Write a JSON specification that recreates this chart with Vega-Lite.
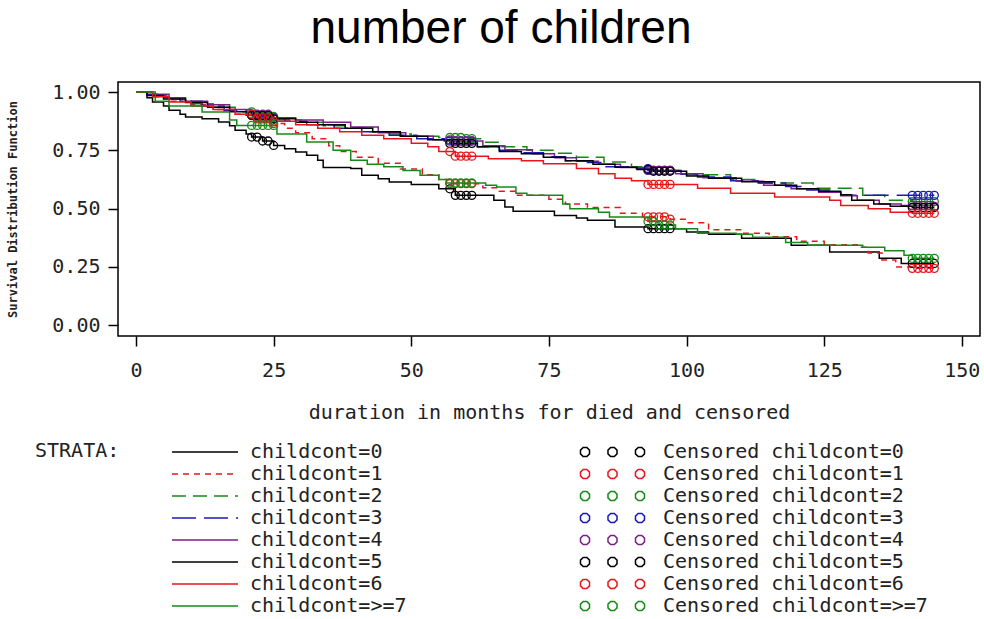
{
  "$schema": "https://vega.github.io/schema/vega-lite/v6.json",
  "width": 862,
  "height": 254,
  "autosize": "none",
  "padding": {"left": 118, "top": 82, "right": 4, "bottom": 283},
  "background": "#ffffff",
  "title": {"text": "number of children", "font": "Liberation Sans", "fontSize": 46, "fontWeight": "normal", "color": "#000000", "anchor": "middle", "frame": "group", "baseline": "alphabetic", "offset": -7, "dx": -48},
  "config": {
    "view": {"stroke": "#000000", "strokeWidth": 1.5},
    "axis": {"domain": false, "grid": false, "tickColor": "#000000", "tickWidth": 1.5, "tickSize": 10, "labelFont": "DejaVu Sans Mono", "labelFontSize": 20, "labelColor": "#222222", "titleFont": "DejaVu Sans Mono", "titleColor": "#222222"},
    "legend": {"labelFont": "DejaVu Sans Mono", "labelFontSize": 20, "labelColor": "#222222", "titleFont": "DejaVu Sans Mono", "titleFontSize": 20, "titleFontWeight": "normal", "titleColor": "#222222", "padding": 0, "rowPadding": 0, "clipHeight": 22, "labelLimit": 400, "symbolStrokeWidth": 1.5}
  },
  "datasets": {
    "curves": [
      {"strata":"childcont=0","t":0,"s":1},{"strata":"childcont=0","t":2,"s":0.975},{"strata":"childcont=0","t":3,"s":0.957},{"strata":"childcont=0","t":5,"s":0.94},{"strata":"childcont=0","t":6,"s":0.922},{"strata":"childcont=0","t":8,"s":0.905},{"strata":"childcont=0","t":9,"s":0.893},{"strata":"childcont=0","t":12,"s":0.885},{"strata":"childcont=0","t":15,"s":0.871},{"strata":"childcont=0","t":17,"s":0.855},{"strata":"childcont=0","t":18,"s":0.836},{"strata":"childcont=0","t":20,"s":0.82},{"strata":"childcont=0","t":21,"s":0.807},{"strata":"childcont=0","t":23,"s":0.79},{"strata":"childcont=0","t":25,"s":0.771},{"strata":"childcont=0","t":27,"s":0.757},{"strata":"childcont=0","t":29,"s":0.743},{"strata":"childcont=0","t":31,"s":0.729},{"strata":"childcont=0","t":33,"s":0.707},{"strata":"childcont=0","t":34,"s":0.676},{"strata":"childcont=0","t":39,"s":0.672},{"strata":"childcont=0","t":41,"s":0.643},{"strata":"childcont=0","t":44,"s":0.628},{"strata":"childcont=0","t":46,"s":0.614},{"strata":"childcont=0","t":50,"s":0.604},{"strata":"childcont=0","t":55,"s":0.585},{"strata":"childcont=0","t":58,"s":0.557},{"strata":"childcont=0","t":65,"s":0.536},{"strata":"childcont=0","t":67,"s":0.507},{"strata":"childcont=0","t":68.5,"s":0.489},{"strata":"childcont=0","t":76,"s":0.471},{"strata":"childcont=0","t":80,"s":0.46},{"strata":"childcont=0","t":82,"s":0.45},{"strata":"childcont=0","t":87,"s":0.421},{"strata":"childcont=0","t":93,"s":0.414},{"strata":"childcont=0","t":100,"s":0.4},{"strata":"childcont=0","t":104,"s":0.39},{"strata":"childcont=0","t":110,"s":0.373},{"strata":"childcont=0","t":119,"s":0.343},{"strata":"childcont=0","t":126,"s":0.314},{"strata":"childcont=0","t":135,"s":0.287},{"strata":"childcont=0","t":139,"s":0.265},{"strata":"childcont=0","t":145,"s":0.265},

      {"strata":"childcont=1","t":0,"s":1},{"strata":"childcont=1","t":3,"s":0.98},{"strata":"childcont=1","t":6,"s":0.96},{"strata":"childcont=1","t":10,"s":0.945},{"strata":"childcont=1","t":14,"s":0.925},{"strata":"childcont=1","t":18,"s":0.905},{"strata":"childcont=1","t":22,"s":0.885},{"strata":"childcont=1","t":25,"s":0.865},{"strata":"childcont=1","t":27,"s":0.845},{"strata":"childcont=1","t":29,"s":0.825},{"strata":"childcont=1","t":32,"s":0.8},{"strata":"childcont=1","t":35,"s":0.77},{"strata":"childcont=1","t":37,"s":0.745},{"strata":"childcont=1","t":40,"s":0.72},{"strata":"childcont=1","t":44,"s":0.695},{"strata":"childcont=1","t":48,"s":0.67},{"strata":"childcont=1","t":52,"s":0.645},{"strata":"childcont=1","t":55,"s":0.625},{"strata":"childcont=1","t":57,"s":0.607},{"strata":"childcont=1","t":63,"s":0.59},{"strata":"childcont=1","t":66,"s":0.575},{"strata":"childcont=1","t":69,"s":0.557},{"strata":"childcont=1","t":75,"s":0.54},{"strata":"childcont=1","t":78,"s":0.52},{"strata":"childcont=1","t":82,"s":0.505},{"strata":"childcont=1","t":88,"s":0.48},{"strata":"childcont=1","t":92,"s":0.465},{"strata":"childcont=1","t":97,"s":0.455},{"strata":"childcont=1","t":100,"s":0.44},{"strata":"childcont=1","t":104,"s":0.41},{"strata":"childcont=1","t":110,"s":0.395},{"strata":"childcont=1","t":115,"s":0.38},{"strata":"childcont=1","t":120,"s":0.36},{"strata":"childcont=1","t":125,"s":0.345},{"strata":"childcont=1","t":131,"s":0.334},{"strata":"childcont=1","t":133,"s":0.31},{"strata":"childcont=1","t":135.5,"s":0.28},{"strata":"childcont=1","t":138,"s":0.25},{"strata":"childcont=1","t":141,"s":0.244},{"strata":"childcont=1","t":145,"s":0.244},

      {"strata":"childcont=2","t":0,"s":1},{"strata":"childcont=2","t":3,"s":0.985},{"strata":"childcont=2","t":6,"s":0.97},{"strata":"childcont=2","t":10,"s":0.95},{"strata":"childcont=2","t":14,"s":0.935},{"strata":"childcont=2","t":18,"s":0.915},{"strata":"childcont=2","t":22,"s":0.895},{"strata":"childcont=2","t":26,"s":0.88},{"strata":"childcont=2","t":30,"s":0.87},{"strata":"childcont=2","t":34,"s":0.855},{"strata":"childcont=2","t":38,"s":0.845},{"strata":"childcont=2","t":42,"s":0.83},{"strata":"childcont=2","t":46,"s":0.82},{"strata":"childcont=2","t":50,"s":0.81},{"strata":"childcont=2","t":55,"s":0.805},{"strata":"childcont=2","t":60,"s":0.8},{"strata":"childcont=2","t":63,"s":0.785},{"strata":"childcont=2","t":66,"s":0.765},{"strata":"childcont=2","t":71,"s":0.75},{"strata":"childcont=2","t":76,"s":0.738},{"strata":"childcont=2","t":80,"s":0.72},{"strata":"childcont=2","t":85,"s":0.7},{"strata":"childcont=2","t":90,"s":0.68},{"strata":"childcont=2","t":93,"s":0.664},{"strata":"childcont=2","t":100,"s":0.645},{"strata":"childcont=2","t":108,"s":0.625},{"strata":"childcont=2","t":113,"s":0.61},{"strata":"childcont=2","t":123,"s":0.587},{"strata":"childcont=2","t":132,"s":0.557},{"strata":"childcont=2","t":136,"s":0.536},{"strata":"childcont=2","t":141,"s":0.53},{"strata":"childcont=2","t":145,"s":0.53},

      {"strata":"childcont=3","t":0,"s":1},{"strata":"childcont=3","t":2,"s":0.99},{"strata":"childcont=3","t":5,"s":0.975},{"strata":"childcont=3","t":8,"s":0.96},{"strata":"childcont=3","t":12,"s":0.94},{"strata":"childcont=3","t":16,"s":0.92},{"strata":"childcont=3","t":20,"s":0.9},{"strata":"childcont=3","t":23,"s":0.89},{"strata":"childcont=3","t":27,"s":0.875},{"strata":"childcont=3","t":31,"s":0.86},{"strata":"childcont=3","t":36,"s":0.845},{"strata":"childcont=3","t":41,"s":0.83},{"strata":"childcont=3","t":46,"s":0.815},{"strata":"childcont=3","t":51,"s":0.8},{"strata":"childcont=3","t":56,"s":0.79},{"strata":"childcont=3","t":62,"s":0.765},{"strata":"childcont=3","t":66,"s":0.75},{"strata":"childcont=3","t":70,"s":0.74},{"strata":"childcont=3","t":74,"s":0.722},{"strata":"childcont=3","t":78,"s":0.705},{"strata":"childcont=3","t":82,"s":0.698},{"strata":"childcont=3","t":85,"s":0.68},{"strata":"childcont=3","t":90,"s":0.672},{"strata":"childcont=3","t":94,"s":0.664},{"strata":"childcont=3","t":99,"s":0.648},{"strata":"childcont=3","t":102,"s":0.636},{"strata":"childcont=3","t":108,"s":0.62},{"strata":"childcont=3","t":113,"s":0.61},{"strata":"childcont=3","t":118,"s":0.595},{"strata":"childcont=3","t":121,"s":0.58},{"strata":"childcont=3","t":126,"s":0.57},{"strata":"childcont=3","t":128,"s":0.557},{"strata":"childcont=3","t":145,"s":0.557},

      {"strata":"childcont=4","t":0,"s":1},{"strata":"childcont=4","t":3,"s":0.99},{"strata":"childcont=4","t":6,"s":0.975},{"strata":"childcont=4","t":9,"s":0.96},{"strata":"childcont=4","t":13,"s":0.945},{"strata":"childcont=4","t":17,"s":0.925},{"strata":"childcont=4","t":21,"s":0.905},{"strata":"childcont=4","t":25,"s":0.89},{"strata":"childcont=4","t":29,"s":0.88},{"strata":"childcont=4","t":34,"s":0.87},{"strata":"childcont=4","t":39,"s":0.85},{"strata":"childcont=4","t":44,"s":0.825},{"strata":"childcont=4","t":49,"s":0.81},{"strata":"childcont=4","t":54,"s":0.795},{"strata":"childcont=4","t":58,"s":0.79},{"strata":"childcont=4","t":63,"s":0.77},{"strata":"childcont=4","t":67,"s":0.752},{"strata":"childcont=4","t":72,"s":0.735},{"strata":"childcont=4","t":76,"s":0.718},{"strata":"childcont=4","t":80,"s":0.703},{"strata":"childcont=4","t":84,"s":0.69},{"strata":"childcont=4","t":88,"s":0.676},{"strata":"childcont=4","t":93,"s":0.664},{"strata":"childcont=4","t":98,"s":0.65},{"strata":"childcont=4","t":103,"s":0.632},{"strata":"childcont=4","t":109,"s":0.618},{"strata":"childcont=4","t":114,"s":0.6},{"strata":"childcont=4","t":119,"s":0.585},{"strata":"childcont=4","t":124,"s":0.57},{"strata":"childcont=4","t":128,"s":0.555},{"strata":"childcont=4","t":131,"s":0.536},{"strata":"childcont=4","t":135,"s":0.52},{"strata":"childcont=4","t":139,"s":0.514},{"strata":"childcont=4","t":145,"s":0.51},

      {"strata":"childcont=5","t":0,"s":1},{"strata":"childcont=5","t":2,"s":0.985},{"strata":"childcont=5","t":5,"s":0.97},{"strata":"childcont=5","t":9,"s":0.955},{"strata":"childcont=5","t":13,"s":0.935},{"strata":"childcont=5","t":17,"s":0.915},{"strata":"childcont=5","t":21,"s":0.9},{"strata":"childcont=5","t":25,"s":0.885},{"strata":"childcont=5","t":29,"s":0.87},{"strata":"childcont=5","t":33,"s":0.86},{"strata":"childcont=5","t":38,"s":0.845},{"strata":"childcont=5","t":43,"s":0.83},{"strata":"childcont=5","t":48,"s":0.81},{"strata":"childcont=5","t":53,"s":0.795},{"strata":"childcont=5","t":57,"s":0.78},{"strata":"childcont=5","t":62,"s":0.765},{"strata":"childcont=5","t":66,"s":0.745},{"strata":"childcont=5","t":70,"s":0.735},{"strata":"childcont=5","t":74,"s":0.72},{"strata":"childcont=5","t":78,"s":0.705},{"strata":"childcont=5","t":83,"s":0.69},{"strata":"childcont=5","t":87,"s":0.678},{"strata":"childcont=5","t":91,"s":0.668},{"strata":"childcont=5","t":94,"s":0.66},{"strata":"childcont=5","t":100,"s":0.64},{"strata":"childcont=5","t":104,"s":0.63},{"strata":"childcont=5","t":110,"s":0.615},{"strata":"childcont=5","t":116,"s":0.6},{"strata":"childcont=5","t":120,"s":0.585},{"strata":"childcont=5","t":124,"s":0.575},{"strata":"childcont=5","t":128,"s":0.56},{"strata":"childcont=5","t":130,"s":0.536},{"strata":"childcont=5","t":134,"s":0.52},{"strata":"childcont=5","t":137,"s":0.51},{"strata":"childcont=5","t":141,"s":0.505},{"strata":"childcont=5","t":145,"s":0.505},

      {"strata":"childcont=6","t":0,"s":1},{"strata":"childcont=6","t":3,"s":0.98},{"strata":"childcont=6","t":6,"s":0.957},{"strata":"childcont=6","t":10,"s":0.94},{"strata":"childcont=6","t":14,"s":0.925},{"strata":"childcont=6","t":18,"s":0.905},{"strata":"childcont=6","t":22,"s":0.89},{"strata":"childcont=6","t":25,"s":0.875},{"strata":"childcont=6","t":29,"s":0.86},{"strata":"childcont=6","t":33,"s":0.845},{"strata":"childcont=6","t":37,"s":0.83},{"strata":"childcont=6","t":41,"s":0.815},{"strata":"childcont=6","t":45,"s":0.8},{"strata":"childcont=6","t":50,"s":0.78},{"strata":"childcont=6","t":53,"s":0.765},{"strata":"childcont=6","t":55,"s":0.745},{"strata":"childcont=6","t":58,"s":0.725},{"strata":"childcont=6","t":64,"s":0.714},{"strata":"childcont=6","t":70,"s":0.705},{"strata":"childcont=6","t":74,"s":0.693},{"strata":"childcont=6","t":80,"s":0.672},{"strata":"childcont=6","t":84,"s":0.65},{"strata":"childcont=6","t":87,"s":0.63},{"strata":"childcont=6","t":90,"s":0.62},{"strata":"childcont=6","t":93,"s":0.604},{"strata":"childcont=6","t":102,"s":0.587},{"strata":"childcont=6","t":108,"s":0.566},{"strata":"childcont=6","t":116,"s":0.55},{"strata":"childcont=6","t":126,"s":0.536},{"strata":"childcont=6","t":128,"s":0.514},{"strata":"childcont=6","t":133,"s":0.5},{"strata":"childcont=6","t":137,"s":0.485},{"strata":"childcont=6","t":141,"s":0.48},{"strata":"childcont=6","t":145,"s":0.48},

      {"strata":"childcont=>=7","t":0,"s":1},{"strata":"childcont=>=7","t":3.5,"s":0.96},{"strata":"childcont=>=7","t":6,"s":0.94},{"strata":"childcont=>=7","t":12,"s":0.914},{"strata":"childcont=>=7","t":17,"s":0.88},{"strata":"childcont=>=7","t":18.3,"s":0.857},{"strata":"childcont=>=7","t":25.6,"s":0.82},{"strata":"childcont=>=7","t":31,"s":0.786},{"strata":"childcont=>=7","t":35.8,"s":0.75},{"strata":"childcont=>=7","t":39,"s":0.707},{"strata":"childcont=>=7","t":42,"s":0.69},{"strata":"childcont=>=7","t":45,"s":0.68},{"strata":"childcont=>=7","t":48.5,"s":0.664},{"strata":"childcont=>=7","t":51.6,"s":0.643},{"strata":"childcont=>=7","t":55,"s":0.625},{"strata":"childcont=>=7","t":56.4,"s":0.61},{"strata":"childcont=>=7","t":63.5,"s":0.6},{"strata":"childcont=>=7","t":65.5,"s":0.593},{"strata":"childcont=>=7","t":69,"s":0.566},{"strata":"childcont=>=7","t":71,"s":0.557},{"strata":"childcont=>=7","t":77.5,"s":0.52},{"strata":"childcont=>=7","t":78.8,"s":0.5},{"strata":"childcont=>=7","t":84,"s":0.485},{"strata":"childcont=>=7","t":86,"s":0.464},{"strata":"childcont=>=7","t":93,"s":0.445},{"strata":"childcont=>=7","t":95,"s":0.43},{"strata":"childcont=>=7","t":98,"s":0.414},{"strata":"childcont=>=7","t":102,"s":0.394},{"strata":"childcont=>=7","t":109,"s":0.39},{"strata":"childcont=>=7","t":112,"s":0.377},{"strata":"childcont=>=7","t":118,"s":0.355},{"strata":"childcont=>=7","t":122,"s":0.343},{"strata":"childcont=>=7","t":132,"s":0.334},{"strata":"childcont=>=7","t":136,"s":0.32},{"strata":"childcont=>=7","t":139.5,"s":0.3},{"strata":"childcont=>=7","t":141,"s":0.287},{"strata":"childcont=>=7","t":145,"s":0.287}
    ],
    "censored": [
      {"strata":"childcont=0","t":21,"s":0.807},{"strata":"childcont=0","t":22,"s":0.807},{"strata":"childcont=0","t":23,"s":0.79},{"strata":"childcont=0","t":24,"s":0.79},{"strata":"childcont=0","t":25,"s":0.771},
      {"strata":"childcont=0","t":57,"s":0.585},{"strata":"childcont=0","t":58,"s":0.557},{"strata":"childcont=0","t":59,"s":0.557},{"strata":"childcont=0","t":60,"s":0.557},{"strata":"childcont=0","t":61,"s":0.557},
      {"strata":"childcont=0","t":93,"s":0.414},{"strata":"childcont=0","t":94,"s":0.414},{"strata":"childcont=0","t":95,"s":0.414},{"strata":"childcont=0","t":96,"s":0.414},{"strata":"childcont=0","t":97,"s":0.414},
      {"strata":"childcont=0","t":141,"s":0.265},{"strata":"childcont=0","t":142,"s":0.265},{"strata":"childcont=0","t":143,"s":0.265},{"strata":"childcont=0","t":144,"s":0.265},{"strata":"childcont=0","t":145,"s":0.265},

      {"strata":"childcont=1","t":21,"s":0.905},{"strata":"childcont=1","t":22,"s":0.885},{"strata":"childcont=1","t":23,"s":0.885},{"strata":"childcont=1","t":24,"s":0.885},{"strata":"childcont=1","t":25,"s":0.865},
      {"strata":"childcont=1","t":57,"s":0.607},{"strata":"childcont=1","t":58,"s":0.607},{"strata":"childcont=1","t":59,"s":0.607},{"strata":"childcont=1","t":60,"s":0.607},{"strata":"childcont=1","t":61,"s":0.607},
      {"strata":"childcont=1","t":93,"s":0.465},{"strata":"childcont=1","t":94,"s":0.465},{"strata":"childcont=1","t":95,"s":0.465},{"strata":"childcont=1","t":96,"s":0.465},{"strata":"childcont=1","t":97,"s":0.455},
      {"strata":"childcont=1","t":141,"s":0.244},{"strata":"childcont=1","t":142,"s":0.244},{"strata":"childcont=1","t":143,"s":0.244},{"strata":"childcont=1","t":144,"s":0.244},{"strata":"childcont=1","t":145,"s":0.244},

      {"strata":"childcont=2","t":21,"s":0.915},{"strata":"childcont=2","t":22,"s":0.895},{"strata":"childcont=2","t":23,"s":0.895},{"strata":"childcont=2","t":24,"s":0.895},{"strata":"childcont=2","t":25,"s":0.895},
      {"strata":"childcont=2","t":57,"s":0.805},{"strata":"childcont=2","t":58,"s":0.805},{"strata":"childcont=2","t":59,"s":0.805},{"strata":"childcont=2","t":60,"s":0.8},{"strata":"childcont=2","t":61,"s":0.8},
      {"strata":"childcont=2","t":93,"s":0.664},{"strata":"childcont=2","t":94,"s":0.664},{"strata":"childcont=2","t":95,"s":0.664},{"strata":"childcont=2","t":96,"s":0.664},{"strata":"childcont=2","t":97,"s":0.664},
      {"strata":"childcont=2","t":141,"s":0.53},{"strata":"childcont=2","t":142,"s":0.53},{"strata":"childcont=2","t":143,"s":0.53},{"strata":"childcont=2","t":144,"s":0.53},{"strata":"childcont=2","t":145,"s":0.53},

      {"strata":"childcont=3","t":21,"s":0.9},{"strata":"childcont=3","t":22,"s":0.9},{"strata":"childcont=3","t":23,"s":0.89},{"strata":"childcont=3","t":24,"s":0.89},{"strata":"childcont=3","t":25,"s":0.89},
      {"strata":"childcont=3","t":57,"s":0.79},{"strata":"childcont=3","t":58,"s":0.79},{"strata":"childcont=3","t":59,"s":0.79},{"strata":"childcont=3","t":60,"s":0.79},{"strata":"childcont=3","t":61,"s":0.79},
      {"strata":"childcont=3","t":93,"s":0.672},{"strata":"childcont=3","t":94,"s":0.664},{"strata":"childcont=3","t":95,"s":0.664},{"strata":"childcont=3","t":96,"s":0.664},{"strata":"childcont=3","t":97,"s":0.664},
      {"strata":"childcont=3","t":141,"s":0.557},{"strata":"childcont=3","t":142,"s":0.557},{"strata":"childcont=3","t":143,"s":0.557},{"strata":"childcont=3","t":144,"s":0.557},{"strata":"childcont=3","t":145,"s":0.557},

      {"strata":"childcont=4","t":21,"s":0.905},{"strata":"childcont=4","t":22,"s":0.905},{"strata":"childcont=4","t":23,"s":0.905},{"strata":"childcont=4","t":24,"s":0.905},{"strata":"childcont=4","t":25,"s":0.89},
      {"strata":"childcont=4","t":57,"s":0.795},{"strata":"childcont=4","t":58,"s":0.79},{"strata":"childcont=4","t":59,"s":0.79},{"strata":"childcont=4","t":60,"s":0.79},{"strata":"childcont=4","t":61,"s":0.79},
      {"strata":"childcont=4","t":93,"s":0.664},{"strata":"childcont=4","t":94,"s":0.664},{"strata":"childcont=4","t":95,"s":0.664},{"strata":"childcont=4","t":96,"s":0.664},{"strata":"childcont=4","t":97,"s":0.664},
      {"strata":"childcont=4","t":141,"s":0.514},{"strata":"childcont=4","t":142,"s":0.514},{"strata":"childcont=4","t":143,"s":0.514},{"strata":"childcont=4","t":144,"s":0.514},{"strata":"childcont=4","t":145,"s":0.51},

      {"strata":"childcont=5","t":21,"s":0.9},{"strata":"childcont=5","t":22,"s":0.9},{"strata":"childcont=5","t":23,"s":0.9},{"strata":"childcont=5","t":24,"s":0.9},{"strata":"childcont=5","t":25,"s":0.885},
      {"strata":"childcont=5","t":57,"s":0.78},{"strata":"childcont=5","t":58,"s":0.78},{"strata":"childcont=5","t":59,"s":0.78},{"strata":"childcont=5","t":60,"s":0.78},{"strata":"childcont=5","t":61,"s":0.78},
      {"strata":"childcont=5","t":93,"s":0.668},{"strata":"childcont=5","t":94,"s":0.66},{"strata":"childcont=5","t":95,"s":0.66},{"strata":"childcont=5","t":96,"s":0.66},{"strata":"childcont=5","t":97,"s":0.66},
      {"strata":"childcont=5","t":141,"s":0.505},{"strata":"childcont=5","t":142,"s":0.505},{"strata":"childcont=5","t":143,"s":0.505},{"strata":"childcont=5","t":144,"s":0.505},{"strata":"childcont=5","t":145,"s":0.505},

      {"strata":"childcont=6","t":21,"s":0.905},{"strata":"childcont=6","t":22,"s":0.89},{"strata":"childcont=6","t":23,"s":0.89},{"strata":"childcont=6","t":24,"s":0.89},{"strata":"childcont=6","t":25,"s":0.875},
      {"strata":"childcont=6","t":57,"s":0.745},{"strata":"childcont=6","t":58,"s":0.725},{"strata":"childcont=6","t":59,"s":0.725},{"strata":"childcont=6","t":60,"s":0.725},{"strata":"childcont=6","t":61,"s":0.725},
      {"strata":"childcont=6","t":93,"s":0.604},{"strata":"childcont=6","t":94,"s":0.604},{"strata":"childcont=6","t":95,"s":0.604},{"strata":"childcont=6","t":96,"s":0.604},{"strata":"childcont=6","t":97,"s":0.604},
      {"strata":"childcont=6","t":141,"s":0.48},{"strata":"childcont=6","t":142,"s":0.48},{"strata":"childcont=6","t":143,"s":0.48},{"strata":"childcont=6","t":144,"s":0.48},{"strata":"childcont=6","t":145,"s":0.48},

      {"strata":"childcont=>=7","t":21,"s":0.857},{"strata":"childcont=>=7","t":22,"s":0.857},{"strata":"childcont=>=7","t":23,"s":0.857},{"strata":"childcont=>=7","t":24,"s":0.857},{"strata":"childcont=>=7","t":25,"s":0.857},
      {"strata":"childcont=>=7","t":57,"s":0.61},{"strata":"childcont=>=7","t":58,"s":0.61},{"strata":"childcont=>=7","t":59,"s":0.61},{"strata":"childcont=>=7","t":60,"s":0.61},{"strata":"childcont=>=7","t":61,"s":0.61},
      {"strata":"childcont=>=7","t":93,"s":0.445},{"strata":"childcont=>=7","t":94,"s":0.445},{"strata":"childcont=>=7","t":95,"s":0.43},{"strata":"childcont=>=7","t":96,"s":0.43},{"strata":"childcont=>=7","t":97,"s":0.43},
      {"strata":"childcont=>=7","t":141,"s":0.287},{"strata":"childcont=>=7","t":142,"s":0.287},{"strata":"childcont=>=7","t":143,"s":0.287},{"strata":"childcont=>=7","t":144,"s":0.287},{"strata":"childcont=>=7","t":145,"s":0.287}
    ]
  },
  "encoding": {
    "x": {"field": "t", "type": "quantitative", "scale": {"domain": [-3.27, 153.3], "nice": false, "zero": false}, "axis": {"values": [0, 25, 50, 75, 100, 125, 150], "labelPadding": 14, "title": "duration in months for died and censored", "titleFontSize": 20, "titleFontWeight": "normal", "titlePadding": 22}},
    "y": {"field": "s", "type": "quantitative", "scale": {"domain": [-0.046, 1.043], "nice": false, "zero": false}, "axis": {"values": [0, 0.25, 0.5, 0.75, 1], "format": ".2f", "labelPadding": 8, "title": "Survival Distribution Function", "titleFontSize": 12, "titleFontWeight": "bold", "titlePadding": 32}}
  },
  "layer": [
    {
      "data": {"name": "curves"},
      "mark": {"type": "line", "interpolate": "step-after", "strokeWidth": 1.5},
      "encoding": {
        "color": {"field": "strata", "type": "nominal",
          "scale": {"domain": ["childcont=0","childcont=1","childcont=2","childcont=3","childcont=4","childcont=5","childcont=6","childcont=>=7"], "range": ["#000000","#e8161c","#168a16","#1a1ab8","#7b2088","#000000","#e8161c","#168a16"]},
          "legend": {"title": "STRATA:", "orient": "none", "legendX": -83, "legendY": 359, "direction": "vertical", "titleOrient": "left", "titleAnchor": "start", "titleBaseline": "top", "titlePadding": 51, "symbolType": "stroke", "symbolSize": 4356, "symbolOffset": 0, "labelOffset": 11}},
        "strokeDash": {"field": "strata", "type": "nominal",
          "scale": {"domain": ["childcont=0","childcont=1","childcont=2","childcont=3","childcont=4","childcont=5","childcont=6","childcont=>=7"], "range": [[1,0],[6,5],[14,7],[24,8],[1,0],[1,0],[1,0],[1,0]]},
          "legend": {"title": "STRATA:", "orient": "none", "legendX": -83, "legendY": 359, "direction": "vertical", "titleOrient": "left", "titleAnchor": "start", "titleBaseline": "top", "titlePadding": 51, "symbolType": "stroke", "symbolSize": 4356, "symbolOffset": 0, "labelOffset": 11}}
      }
    },
    {
      "data": {"name": "censored"},
      "mark": {"type": "point", "shape": "circle", "filled": false, "size": 64, "strokeWidth": 1.3, "opacity": 1},
      "encoding": {
        "color": {"field": "strata", "type": "nominal",
          "scale": {"domain": ["childcont=0","childcont=1","childcont=2","childcont=3","childcont=4","childcont=5","childcont=6","childcont=>=7"], "range": ["#000000","#e8161c","#168a16","#1a1ab8","#7b2088","#000000","#e8161c","#168a16"]},
          "legend": {"title": null, "orient": "none", "legendX": 461, "legendY": 359, "direction": "vertical", "symbolType": "M-0.707,-0.057L-0.707,0.057L-0.789,0.139L-0.903,0.139L-0.985,0.057L-0.985,-0.057L-0.903,-0.139L-0.789,-0.139Z M0.139,-0.057L0.139,0.057L0.057,0.139L-0.057,0.139L-0.139,0.057L-0.139,-0.057L-0.057,-0.139L0.057,-0.139Z M0.985,-0.057L0.985,0.057L0.903,0.139L0.789,0.139L0.707,0.057L0.707,-0.057L0.789,-0.139L0.903,-0.139Z", "symbolSize": 4225, "symbolOffset": 0, "symbolFillColor": "transparent", "labelOffset": 17, "labelExpr": "'Censored ' + datum.label"}}
      }
    }
  ],
  "resolve": {"scale": {"color": "independent", "strokeDash": "independent"}}
}
